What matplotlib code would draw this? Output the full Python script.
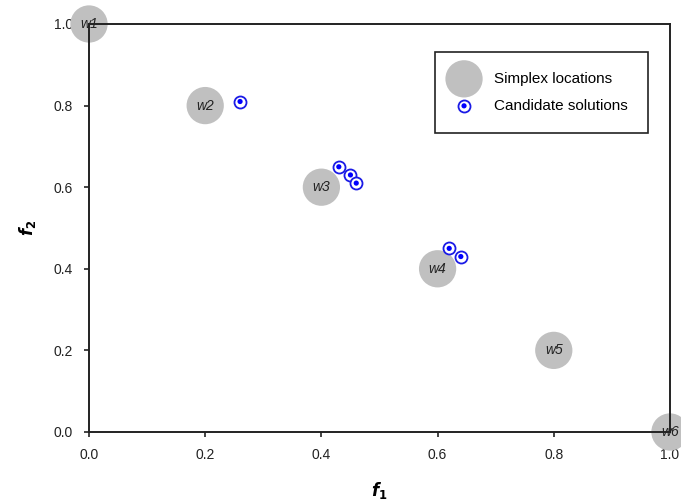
import matplotlib
matplotlib.use("Agg")
import matplotlib.pyplot as plt
from matplotlib.legend_handler import HandlerTuple

plt.rcParams['font.family'] = ['Liberation Sans', 'DejaVu Sans']

# ------------------- Data -------------------
simplex_f1 = [0.0, 0.2, 0.4, 0.6, 0.8, 1.0]
simplex_f2 = [1.0, 0.8, 0.6, 0.4, 0.2, 0.0]
simplex_labels = ['w1', 'w2', 'w3', 'w4', 'w5', 'w6']

cand_f1 = [0.26, 0.43, 0.45, 0.46, 0.62, 0.64]
cand_f2 = [0.81, 0.65, 0.63, 0.61, 0.45, 0.43]

ticks = [0.0, 0.2, 0.4, 0.6, 0.8, 1.0]

# ------------------- Plot -------------------
fig = plt.figure(figsize=(6.81, 5.04), dpi=100)
ax = fig.add_axes([0.1307, 0.1429, 0.8531, 0.8095])

simplex = ax.scatter(simplex_f1, simplex_f2, s=720, c='#c0c0c0', edgecolors='none',
                     clip_on=False, zorder=2)
for x, y, lab in zip(simplex_f1, simplex_f2, simplex_labels):
    ax.text(x, y, lab, fontsize=10, style='italic', ha='center', va='center',
            zorder=3, clip_on=False, color='#222222')

ring = ax.scatter(cand_f1, cand_f2, s=75, facecolors='white', edgecolors='#1a1ae6',
                  linewidths=1.3, zorder=4, clip_on=False)
dot = ax.scatter(cand_f1, cand_f2, s=14, c='#0000ff', edgecolors='none',
                 zorder=5, clip_on=False)

ax.set_xlim(0, 1.0)
ax.set_ylim(0, 1.0)
ax.set_xticks(ticks)
ax.set_yticks(ticks)
ax.set_xticklabels([f"{t:.1f}" for t in ticks], fontsize=10)
ax.set_yticklabels([f"{t:.1f}" for t in ticks], fontsize=10)
ax.tick_params(direction='out', length=3.6, width=1.2, pad=8, top=False, right=False,
               colors='#222222')
for sp in ax.spines.values():
    sp.set_linewidth(1.4)
    sp.set_color('#222222')

ax.set_xlabel(r'$\mathbfit{f}_{\mathbf{1}}$', fontsize=12, labelpad=13)
ax.set_ylabel(r'$\mathbfit{f}_{\mathbf{2}}$', fontsize=12, labelpad=11)

leg = ax.legend([simplex, (ring, dot)], ['Simplex locations', 'Candidate solutions'],
                handler_map={tuple: HandlerTuple(ndivide=1)},
                loc='upper left', bbox_to_anchor=(435 / 681, 1 - 52 / 504),
                bbox_transform=fig.transFigure, borderaxespad=0, fontsize=11,
                fancybox=False, framealpha=1, edgecolor='#222222',
                borderpad=1.3, labelspacing=0.85, handletextpad=1.37,
                handlelength=1.2, scatterpoints=1)
leg.get_frame().set_linewidth(1.2)
leg.legend_handles[0].set_sizes([720])

fig.savefig('out.png', dpi=100)
